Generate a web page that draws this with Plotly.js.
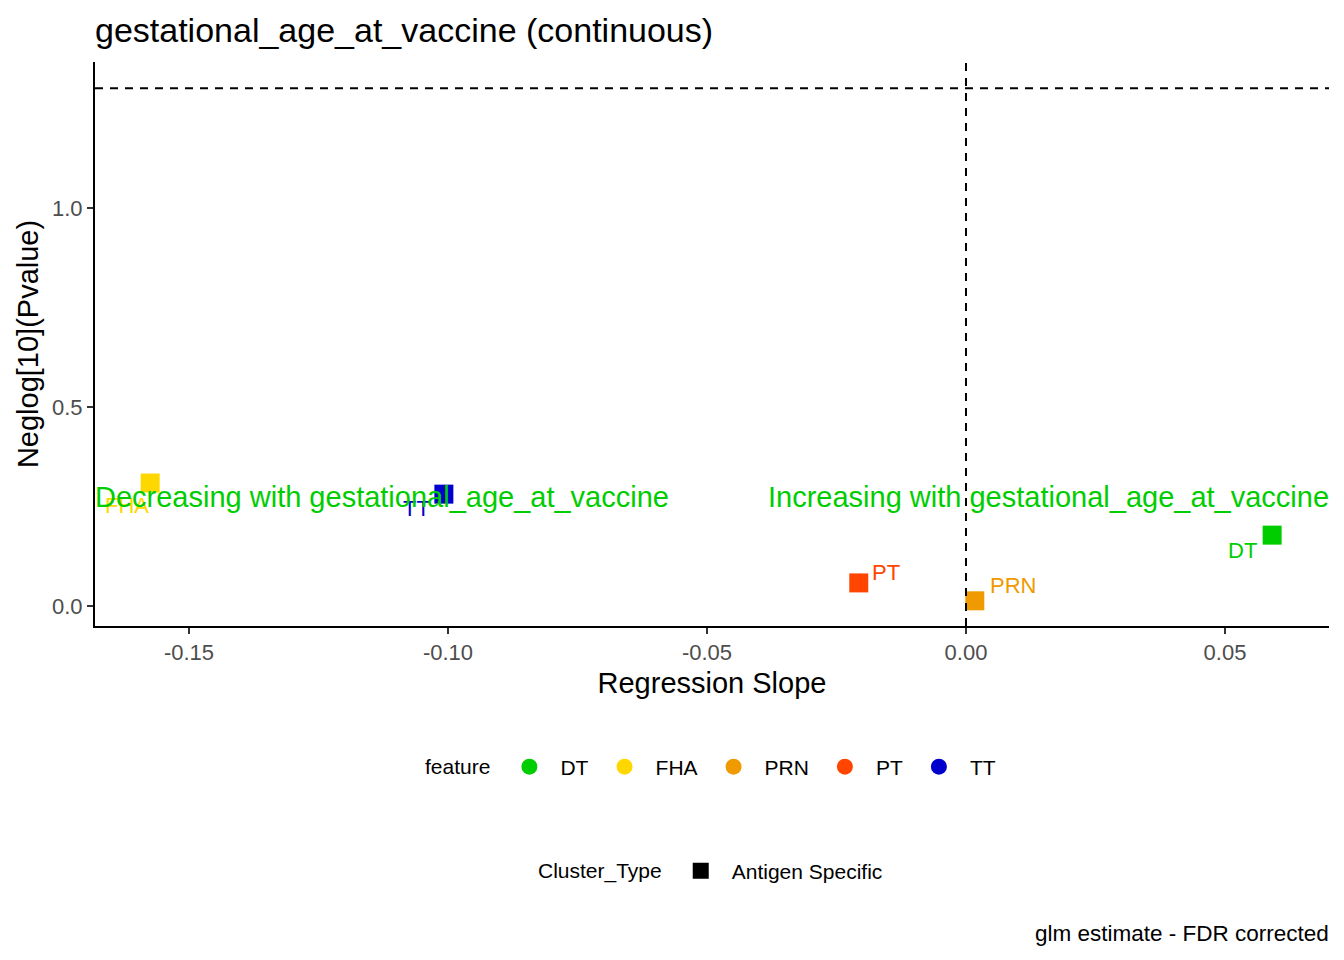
<!DOCTYPE html>
<html>
<head>
<meta charset="utf-8">
<script src="https://cdn.plot.ly/plotly-3.0.1.min.js"></script>
<style>
  html, body { margin: 0; padding: 0; background: #fff; }
  #chart { width: 1344px; height: 960px; }
</style>
</head>
<body>
<div id="chart"></div>
<script>
// values
const features = ['DT', 'FHA', 'PRN', 'PT', 'TT'];
const featureColors = ['#00CD00', '#FFD700', '#EE9A00', '#FF4500', '#0000CD'];
const slopes = [0.0591, -0.1575, 0.0017, -0.0207, -0.1008];
const negLogP = [0.178, 0.309, 0.013, 0.058, 0.281];
const clusterTypes = ['Antigen Specific'];

const xTickVals = [-0.15, -0.10, -0.05, 0.00, 0.05];
const xTickText = ['-0.15', '-0.10', '-0.05', '0.00', '0.05'];
const yTickVals = [0.0, 0.5, 1.0];
const yTickText = ['0.0', '0.5', '1.0'];

const pCutoff = 0.05;
const varName = 'gestational_age_at_vaccine';

const FONT = '"Liberation Sans", Arial, sans-serif';
const xRange = [-0.16815, 0.07008];
const yRange = [-0.0503, 1.3668];

// pixel offsets of the repelled labels from their points
const labelShift = {
  DT: [-30, -15],
  FHA: [-23, -22],
  PRN: [38, 15],
  PT: [27, 10],
  TT: [-27, -14],
};

const traces = [];

// the points themselves, one trace per feature
features.forEach((f, i) => {
  traces.push({
    type: 'scatter',
    mode: 'markers',
    x: [slopes[i]],
    y: [negLogP[i]],
    marker: {symbol: 'square', size: 19, color: featureColors[i]},
    showlegend: false,
    hoverinfo: 'skip',
    cliponaxis: false,
  });
});

// legend-only entries (ggplot shows the colour key as circles)
features.forEach((f, i) => {
  traces.push({
    type: 'scatter',
    mode: 'markers',
    x: [null],
    y: [null],
    name: f,
    marker: {symbol: 'circle', size: 17, color: featureColors[i]},
    legend: 'legend',
  });
});

clusterTypes.forEach(c => {
  traces.push({
    type: 'scatter',
    mode: 'markers',
    x: [null],
    y: [null],
    name: c,
    marker: {symbol: 'square', size: 18, color: '#000'},
    legend: 'legend2',
  });
});

const cutoff = -Math.log10(pCutoff);

// point labels first so the big direction texts sit on top of them
const labelAnnotations = features.map((f, i) => ({
  text: f,
  xref: 'x', x: slopes[i],
  yref: 'y', y: negLogP[i],
  xshift: labelShift[f][0],
  yshift: labelShift[f][1],
  showarrow: false,
  font: {family: FONT, size: 22, color: featureColors[i]},
}));

const layout = {
  width: 1344,
  height: 960,
  paper_bgcolor: '#fff',
  plot_bgcolor: '#fff',
  font: {family: FONT, color: '#000'},
  margin: {l: 95, r: 15, t: 62, b: 334},
  title: {
    text: varName + ' (continuous)',
    font: {family: FONT, size: 34, color: '#000'},
    xref: 'paper', x: 0, xanchor: 'left',
    yref: 'container', y: 1 - 30 / 960, yanchor: 'middle',
  },
  xaxis: {
    range: xRange,
    tickvals: xTickVals,
    ticktext: xTickText,
    ticks: 'outside',
    ticklen: 6,
    tickwidth: 2,
    tickcolor: '#333',
    tickfont: {family: FONT, size: 22, color: '#4d4d4d'},
    showline: true,
    linecolor: '#000',
    linewidth: 2,
    showgrid: false,
    zeroline: false,
    title: {text: 'Regression Slope', font: {family: FONT, size: 29, color: '#000'}, standoff: 8},
  },
  yaxis: {
    range: yRange,
    tickvals: yTickVals,
    ticktext: yTickText,
    ticks: 'outside',
    ticklen: 6,
    tickwidth: 2,
    tickcolor: '#333',
    tickfont: {family: FONT, size: 22, color: '#4d4d4d'},
    showline: true,
    linecolor: '#000',
    linewidth: 2,
    showgrid: false,
    zeroline: false,
    title: {text: 'Neglog[10](Pvalue)', font: {family: FONT, size: 29, color: '#000'}, standoff: 5},
  },
  shapes: [
    {type: 'line', xref: 'paper', x0: 0, x1: 1, yref: 'y', y0: cutoff, y1: cutoff,
     line: {color: '#000', width: 2, dash: '8px,7px'}},
    {type: 'line', xref: 'x', x0: 0, x1: 0, yref: 'paper', y0: 0, y1: 1,
     line: {color: '#000', width: 2, dash: '8px,7px'}},
  ],
  annotations: labelAnnotations.concat([
    {text: 'Decreasing with ' + varName, xref: 'paper', x: 0, xanchor: 'left', xshift: -2,
     yref: 'y', y: 0.274, yanchor: 'middle', showarrow: false,
     font: {family: FONT, size: 29, color: '#00CD00'}},
    {text: 'Increasing with ' + varName, xref: 'paper', x: 1, xanchor: 'right', xshift: 2,
     yref: 'y', y: 0.274, yanchor: 'middle', showarrow: false,
     font: {family: FONT, size: 29, color: '#00CD00'}},
    {text: 'glm estimate - FDR corrected', xref: 'paper', x: 1, xanchor: 'right', xshift: 2,
     yref: 'paper', y: (626 - 933) / 564, yanchor: 'middle', showarrow: false,
     font: {family: FONT, size: 22.5, color: '#000'}},
  ]),
  legend: {
    orientation: 'h',
    x: 0.5, xanchor: 'center',
    y: (626 - 767) / 564, yanchor: 'middle',
    itemwidth: 52,
    title: {text: 'feature', side: 'left', font: {family: FONT, size: 21, color: '#000'}},
    font: {family: FONT, size: 21, color: '#000'},
    bgcolor: 'rgba(0,0,0,0)',
  },
  legend2: {
    orientation: 'h',
    x: 0.5, xanchor: 'center',
    y: (626 - 871) / 564, yanchor: 'middle',
    itemwidth: 52,
    title: {text: 'Cluster_Type', side: 'left', font: {family: FONT, size: 21, color: '#000'}},
    font: {family: FONT, size: 21, color: '#000'},
    bgcolor: 'rgba(0,0,0,0)',
  },
};

Plotly.newPlot('chart', traces, layout, {displayModeBar: false, staticPlot: true});
</script>
</body>
</html>
